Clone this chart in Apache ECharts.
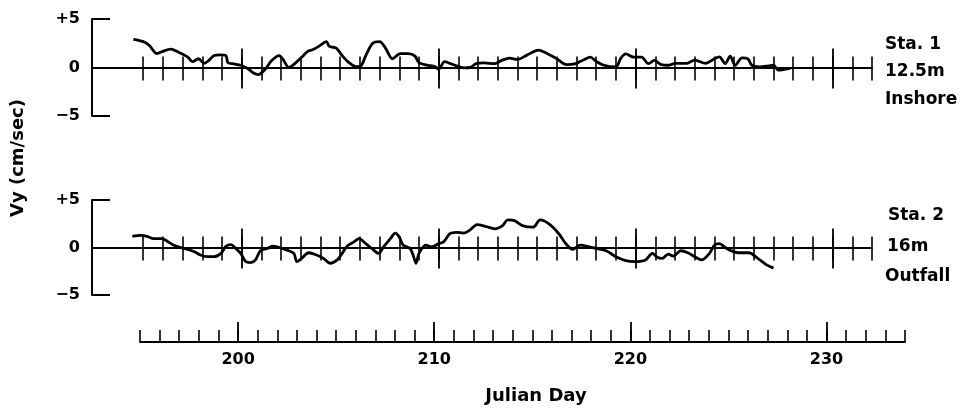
<!DOCTYPE html>
<html><head><meta charset="utf-8">
<script src="https://cdn.jsdelivr.net/npm/echarts@6/dist/echarts.min.js"></script>
<style>html,body{margin:0;padding:0;background:#fff}#c{width:972px;height:411px}</style>
</head><body><div id="c"></div>
<script>
// Station 1 (12.5 m, inshore): [Julian day, Vy cm/sec]
const sta1 = [[194.5,2.9],[195.0,2.67],[195.3,2.3],[195.7,1.43],[196.0,1.67],[196.4,1.9],[196.8,1.57],[197.25,1.1],[197.5,0.6],[197.8,0.9],[198.1,0.43],[198.3,0.67],[198.6,1.23],[198.9,1.3],[199.2,1.23],[199.3,0.5],[199.6,0.37],[199.95,0.23],[200.3,-0.1],[200.6,-0.57],[200.85,-0.73],[201.2,-0.17],[201.5,0.67],[201.9,1.23],[202.1,0.83],[202.4,0],[202.75,0.5],[203.1,1.17],[203.35,1.67],[203.6,1.83],[203.95,2.23],[204.3,2.67],[204.45,2.17],[204.8,2.0],[205.1,1.23],[205.45,0.5],[205.8,0.1],[206.05,0.17],[206.3,1.23],[206.65,2.5],[207.0,2.67],[207.3,2.0],[207.65,0.9],[208.05,1.43],[208.45,1.43],[208.8,1.17],[209.0,0.5],[209.45,0.23],[209.8,0.1],[210.0,-0.17],[210.3,0.6],[210.6,0.4],[210.9,0.17],[211.27,-0.03],[211.6,0],[211.9,0.4],[212.3,0.47],[212.85,0.4],[213.2,0.73],[213.6,0.97],[214.0,0.83],[214.5,1.3],[215.07,1.8],[215.55,1.4],[216.0,0.9],[216.5,0.3],[216.95,0.4],[217.4,0.83],[217.7,1.07],[218.0,0.63],[218.4,0.23],[219.0,0.07],[219.25,0.97],[219.5,1.4],[219.9,1.07],[220.3,1.07],[220.65,0.4],[220.95,0.73],[221.3,0.3],[221.7,0.23],[222.0,0.43],[222.6,0.43],[223.0,0.77],[223.55,0.43],[224.0,0.9],[224.25,1.1],[224.55,0.4],[224.8,1.17],[225.05,0.23],[225.4,1.0],[225.7,0.9],[225.9,0.23],[226.3,0.07],[226.75,0.17],[227.0,0.23],[227.25,-0.27],[227.6,-0.17],[227.85,-0.1]];
// Station 2 (16 m, outfall)
const sta2 = [[194.45,1.17],[194.87,1.28],[195.2,1.17],[195.53,0.93],[195.95,0.93],[196.2,0.69],[196.55,0.24],[196.9,0],[197.25,-0.2],[197.6,-0.45],[197.9,-0.79],[198.25,-0.97],[198.6,-0.97],[198.95,-0.62],[199.2,0.14],[199.45,0.31],[199.7,-0.1],[199.95,-0.62],[200.2,-1.48],[200.45,-1.59],[200.7,-1.31],[200.95,-0.34],[201.3,-0.1],[201.55,0.14],[201.9,0],[202.3,-0.28],[202.65,-0.62],[202.8,-1.48],[203.05,-1.14],[203.4,-0.55],[203.8,-0.79],[204.15,-1.14],[204.5,-1.66],[204.85,-1.31],[205.1,-0.62],[205.35,0.14],[205.7,0.59],[205.95,0.93],[206.3,0.41],[206.6,-0.1],[206.95,-0.62],[207.2,0.07],[207.55,0.93],[207.8,1.52],[208.0,1.1],[208.2,0.24],[208.55,-0.1],[208.7,-0.79],[208.85,-1.66],[209.0,-0.62],[209.35,0.24],[209.65,0.07],[210.0,0.41],[210.25,0.59],[210.57,1.45],[210.9,1.6],[211.27,1.52],[211.6,1.86],[211.95,2.41],[212.4,2.21],[212.85,1.97],[213.25,2.31],[213.5,2.9],[213.85,2.83],[214.25,2.31],[214.8,2.14],[215.15,2.9],[215.6,2.48],[216.1,1.45],[216.45,0.41],[216.8,-0.2],[217.2,0.24],[217.65,0.07],[218.0,-0.1],[218.5,-0.34],[219.0,-0.97],[219.5,-1.38],[220.0,-1.48],[220.5,-1.31],[220.85,-0.62],[221.1,-1.03],[221.35,-1.14],[221.65,-0.69],[221.9,-0.9],[222.3,-0.34],[222.65,-0.55],[223.0,-0.97],[223.35,-1.31],[223.75,-0.62],[224.0,0.24],[224.25,0.41],[224.55,0],[224.85,-0.34],[225.2,-0.55],[225.75,-0.55],[226.2,-1.14],[226.65,-1.83],[227.0,-2.17]];
// Tick values
const dayTicks = [195,196,197,198,199,200,201,202,203,204,205,206,207,208,209,210,211,212,213,214,215,216,217,218,219,220,221,222,223,224,225,226,227,228,229,230,231,232];
const majorDays = [200,210,220,230];
const yTicks = [-5,0,5];
const stationLabels1 = ['Sta. 1','12.5m','Inshore'];
const stationLabels2 = ['Sta. 2','16m','Outfall'];

const FONT = '"DejaVu Sans", sans-serif';
const BLACK = '#000';
const chart = echarts.init(document.getElementById('c'), null, {renderer: 'canvas'});

const panelX = {min: 192.4, max: 232};
function tickAxes(grid, yIdx) {
  const base = {type: 'value', gridIndex: grid, min: panelX.min, max: panelX.max, position: 'bottom',
    splitLine: {show: false}, axisLabel: {show: false}};
  return [
    Object.assign({}, base, {axisLine: {show: true, onZero: true, onZeroAxisIndex: yIdx, lineStyle: {color: BLACK, width: 2}},
      axisTick: {show: true, inside: false, length: 13, customValues: dayTicks, lineStyle: {color: BLACK, width: 1.6}}}),
    Object.assign({}, base, {axisLine: {show: false, onZero: true, onZeroAxisIndex: yIdx},
      axisTick: {show: true, inside: true, length: 11, customValues: dayTicks, lineStyle: {color: BLACK, width: 1.6}}}),
    Object.assign({}, base, {axisLine: {show: false, onZero: true, onZeroAxisIndex: yIdx},
      axisTick: {show: true, inside: false, length: 21, customValues: majorDays, lineStyle: {color: BLACK, width: 1.8}}}),
    Object.assign({}, base, {axisLine: {show: false, onZero: true, onZeroAxisIndex: yIdx},
      axisTick: {show: true, inside: true, length: 19, customValues: majorDays, lineStyle: {color: BLACK, width: 1.8}}})
  ];
}
function yAxisFor(grid) {
  return {type: 'value', gridIndex: grid, min: yTicks[0], max: yTicks[2], interval: 5,
    axisLine: {show: true, onZero: false, lineStyle: {color: BLACK, width: 2}},
    axisTick: {show: true, inside: true, length: 18, lineStyle: {color: BLACK, width: 2}},
    splitLine: {show: false},
    axisLabel: {show: true, margin: 12, color: BLACK, fontFamily: FONT, fontSize: 16, fontWeight: 'bold',
      formatter: v => v > 0 ? '+' + v : (v < 0 ? '\u2212' + Math.abs(v) : '0')}};
}
function textEl(t, x, y, size, align, rot) {
  return {type: 'text', x: x, y: y, rotation: rot || 0,
    style: {text: t, align: align || 'left', verticalAlign: 'middle', fill: BLACK,
      font: 'bold ' + size + 'px ' + FONT}};
}

const option = {
  animation: false,
  backgroundColor: '#fff',
  grid: [
    {left: 92, top: 19, width: 780, height: 97},
    {left: 92, top: 200, width: 780, height: 95},
    {left: 140, top: 322, width: 765, height: 20}
  ],
  xAxis: [].concat(tickAxes(0, 0), tickAxes(1, 1), [
    {type: 'value', gridIndex: 2, min: 195, max: 234, interval: 1, position: 'bottom',
      axisLine: {show: true, onZero: false, lineStyle: {color: BLACK, width: 2}},
      axisTick: {show: true, inside: true, length: 12, lineStyle: {color: BLACK, width: 1.6}},
      splitLine: {show: false},
      axisLabel: {show: true, margin: 10, color: BLACK, fontFamily: FONT, fontSize: 16, fontWeight: 'bold',
        formatter: v => majorDays.indexOf(v) >= 0 ? String(v) : ''}},
    {type: 'value', gridIndex: 2, min: 195, max: 234, position: 'bottom',
      axisLine: {show: false, onZero: false},
      axisTick: {show: true, inside: true, length: 20, customValues: majorDays, lineStyle: {color: BLACK, width: 1.8}},
      splitLine: {show: false}, axisLabel: {show: false}}
  ]),
  yAxis: [yAxisFor(0), yAxisFor(1),
    {type: 'value', gridIndex: 2, min: 0, max: 1, show: false}],
  series: [
    {type: 'line', xAxisIndex: 0, yAxisIndex: 0, data: sta1, showSymbol: false, smooth: 0.3,
      lineStyle: {color: BLACK, width: 2.8}},
    {type: 'line', xAxisIndex: 4, yAxisIndex: 1, data: sta2, showSymbol: false, smooth: 0.3,
      lineStyle: {color: BLACK, width: 2.8}}
  ],
  graphic: [
    textEl(stationLabels1[0], 885, 45, 17),
    textEl(stationLabels1[1], 885, 72, 17),
    textEl(stationLabels1[2], 885, 100, 17),
    textEl(stationLabels2[0], 888, 216, 17),
    textEl(stationLabels2[1], 887, 247, 17),
    textEl(stationLabels2[2], 885, 277, 17),
    textEl('Vy (cm/sec)', 18, 158, 18, 'center', Math.PI / 2),
    textEl('Julian Day', 536, 396, 18, 'center')
  ]
};
chart.setOption(option);
</script>
</body></html>
